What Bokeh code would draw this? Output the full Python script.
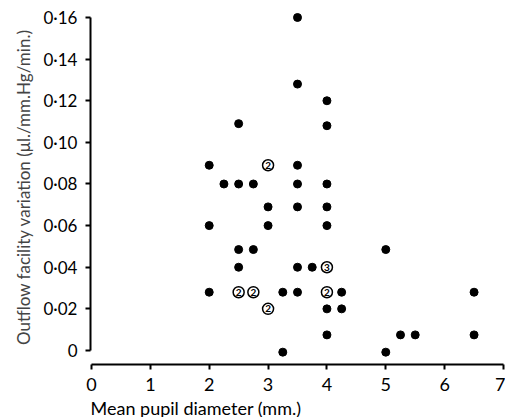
from bokeh.plotting import figure
from bokeh.models import Range1d, FixedTicker, Title, ColumnDataSource
from bokeh.core.properties import value
from bokeh.embed import file_html
from bokeh.resources import INLINE

# single observations (filled dots)
dot_x = [3.5, 3.5, 4, 2.5, 4, 2, 3.5, 2.25, 2.5, 2.75, 3.5, 4, 3, 3.5, 4,
         2, 3, 4, 2.5, 2.75, 5, 2.5, 3.5, 3.75, 2, 3.25, 3.5, 4.25, 6.5,
         4, 4.25, 4, 5.25, 5.5, 6.5, 3.25, 5]
dot_y = [0.160, 0.128, 0.120, 0.109, 0.108, 0.089, 0.089, 0.080, 0.080, 0.080, 0.080, 0.080,
         0.069, 0.069, 0.069, 0.060, 0.060, 0.060, 0.0485, 0.0485, 0.0485,
         0.040, 0.040, 0.040, 0.028, 0.028, 0.028, 0.028, 0.028,
         0.020, 0.020, 0.0075, 0.0075, 0.0075, 0.0075, -0.0008, -0.0008]

# coincident observations (circled counts)
multi_x = [3, 2.5, 2.75, 4, 3, 4]
multi_y = [0.089, 0.028, 0.028, 0.028, 0.020, 0.040]
multi_n = ["2", "2", "2", "2", "2", "3"]

x_ticks = [0, 1, 2, 3, 4, 5, 6, 7]
x_labels = ["0", "1", "2", "3", "4", "5", "6", "7"]
y_ticks = [0, 0.02, 0.04, 0.06, 0.08, 0.10, 0.12, 0.14, 0.16]
y_labels = ["0", "0·02", "0·04", "0·06", "0·08", "0·10", "0·12", "0·14", "0·16"]

FONT = "Lato"

p = figure(frame_width=413, frame_height=355, output_backend="svg", toolbar_location=None,
           x_range=Range1d(-0.017, 7.0), y_range=Range1d(-0.00673, 0.16384),
           min_border_left=90, min_border_top=9, min_border_right=2, min_border_bottom=20)
p.outline_line_color = None
p.grid.visible = False
p.background_fill_color = "white"

for ax in (p.xaxis[0], p.yaxis[0]):
    ax.axis_line_width = 2
    ax.axis_line_color = "black"
    ax.major_tick_line_width = 2
    ax.major_tick_line_color = "black"
    ax.major_tick_out = 5
    ax.major_tick_in = 0
    ax.minor_tick_line_color = None
    ax.major_label_text_font = FONT
    ax.major_label_text_color = "black"

p.xaxis[0].ticker = FixedTicker(ticks=x_ticks)
p.xaxis[0].major_label_overrides = {t: l for t, l in zip(x_ticks, x_labels)}
p.xaxis[0].bounds = (0, 7)
p.xaxis[0].major_label_text_font_size = "18px"
p.xaxis[0].major_label_standoff = 8

p.yaxis[0].ticker = FixedTicker(ticks=y_ticks)
p.yaxis[0].major_label_overrides = {t: l for t, l in zip(y_ticks, y_labels)}
p.yaxis[0].bounds = (0, 0.16)
p.yaxis[0].major_label_text_font_size = "17px"
p.yaxis[0].major_label_standoff = 8
p.yaxis[0].axis_label = "Outflow facility variation (μl./mm.Hg/min.)"
p.yaxis[0].axis_label_text_font = FONT
p.yaxis[0].axis_label_text_font_size = "17px"
p.yaxis[0].axis_label_text_font_style = "normal"
p.yaxis[0].axis_label_standoff = 6

p.add_layout(Title(text="Mean pupil diameter (mm.)", align="left", standoff=2,
                   text_font=FONT, text_font_size="18px", text_font_style="normal",
                   text_color="black"), "below")

dots = ColumnDataSource(dict(x=dot_x, y=dot_y))
p.scatter("x", "y", source=dots, size=8, color="black")

multi = ColumnDataSource(dict(x=multi_x, y=multi_y, n=multi_n))
p.scatter("x", "y", source=multi, size=11, fill_color="white", line_color="black", line_width=1.5)
p.text("x", "y", text="n", source=multi, text_align="center", text_baseline="middle",
       text_font=value(FONT), text_font_size="10px", text_font_style="bold", text_color="black")

open("out.html", "w").write(file_html(p, INLINE))
